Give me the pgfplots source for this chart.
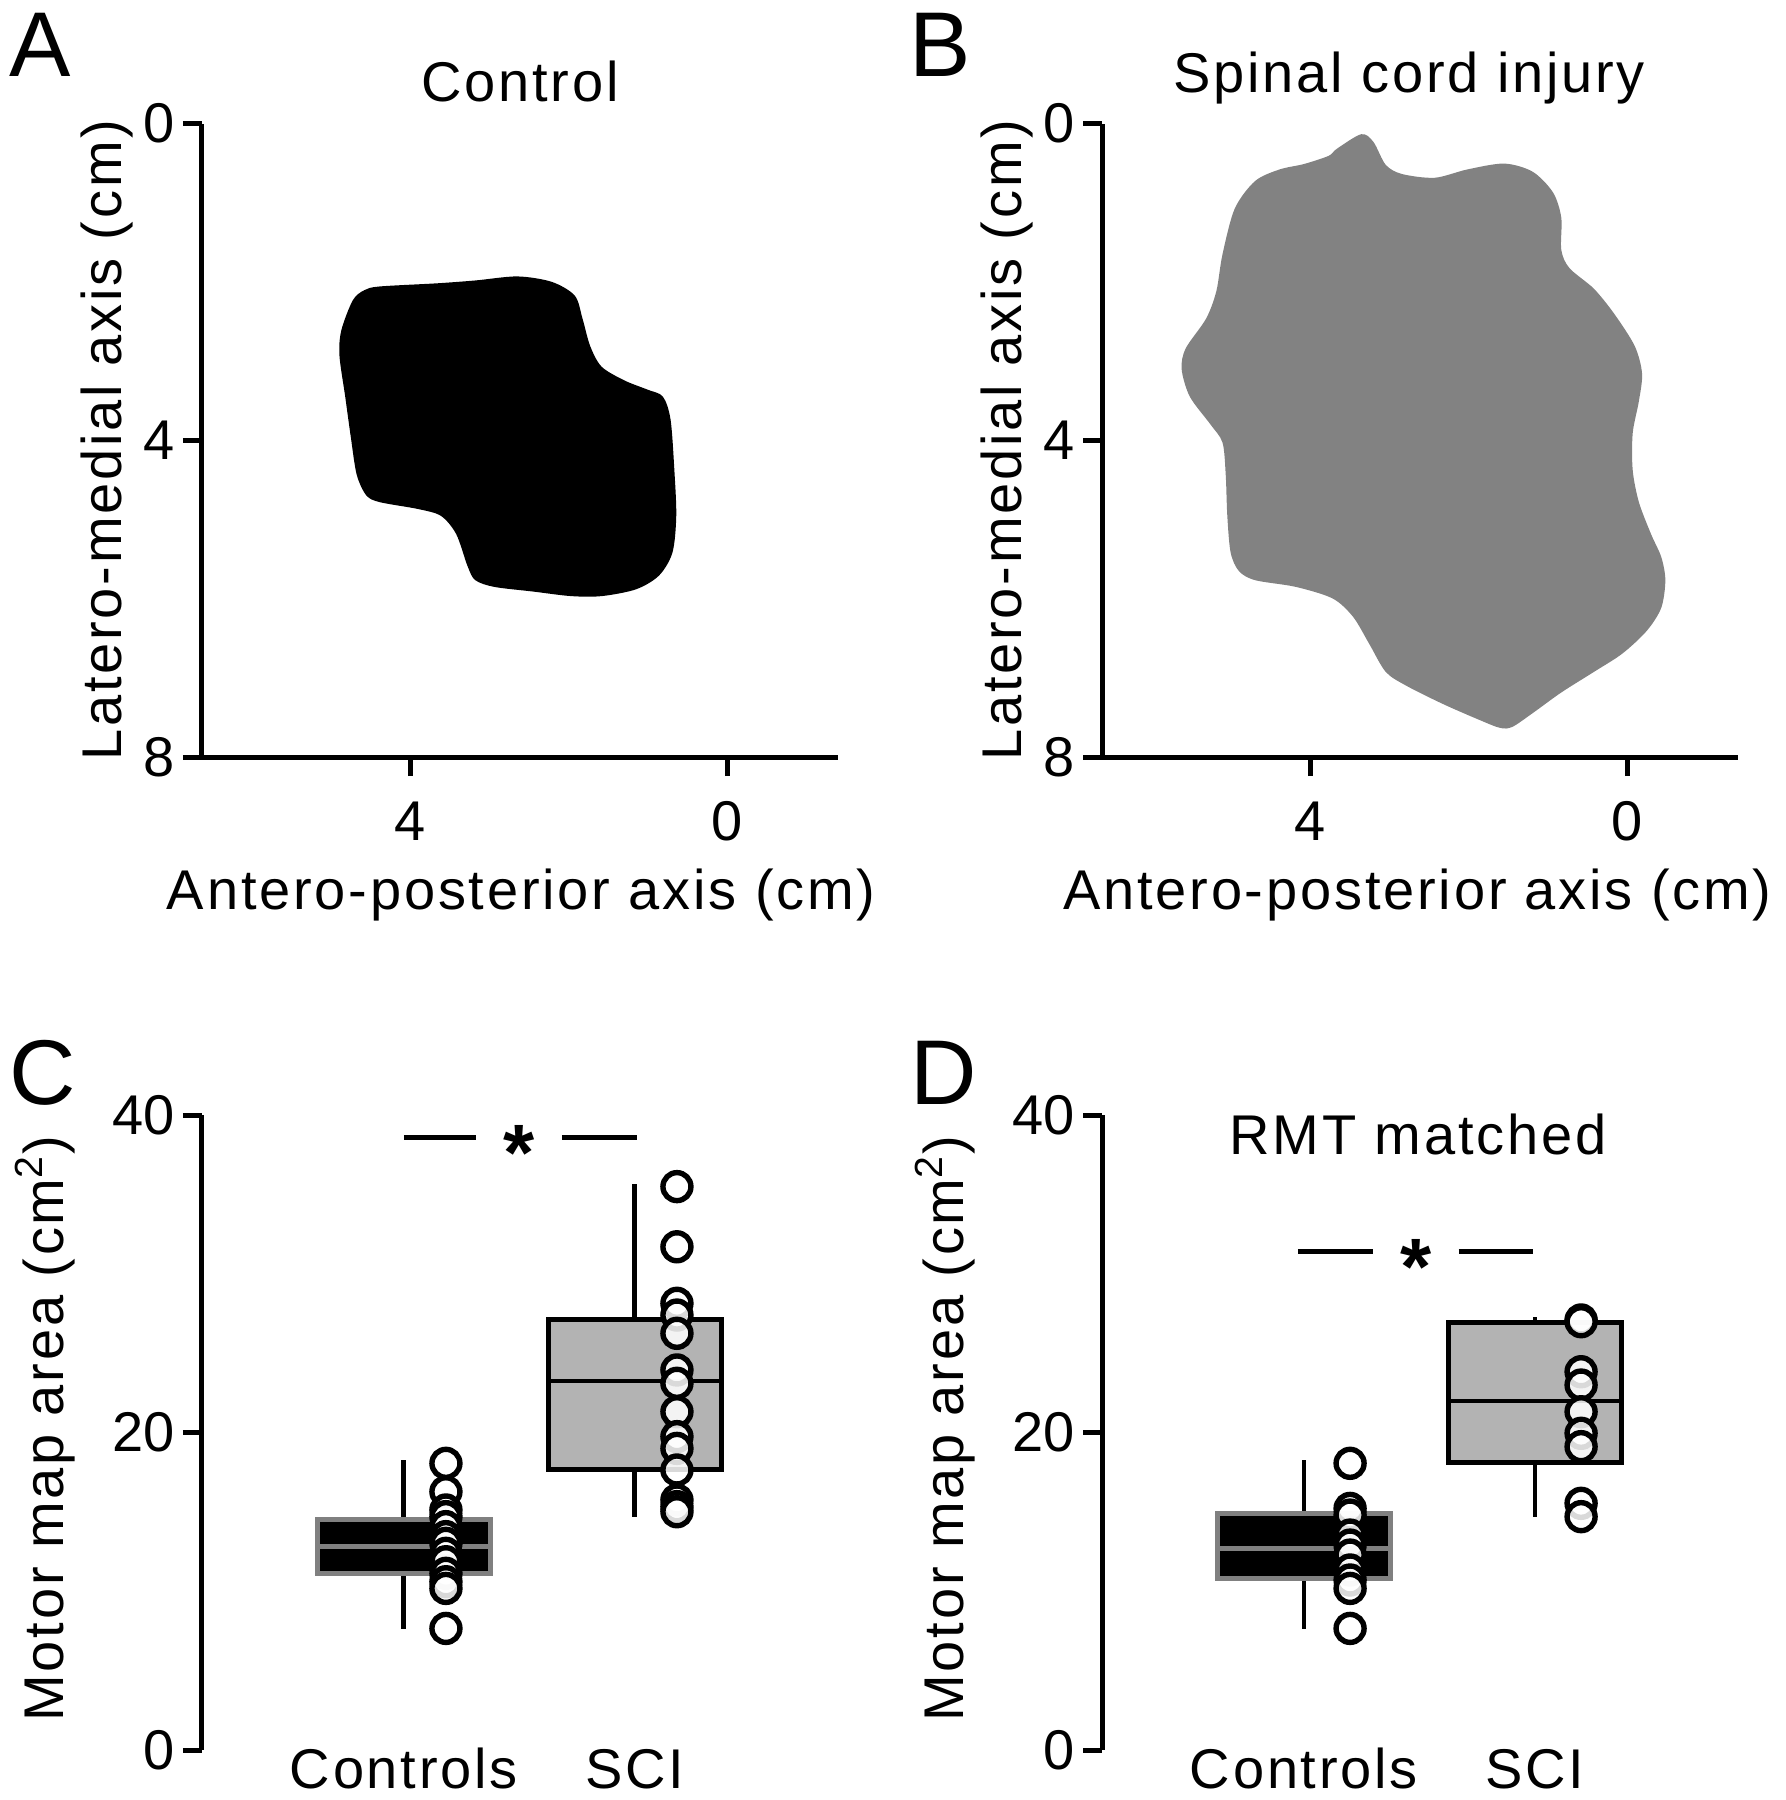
\documentclass[border=0pt]{standalone}
\usepackage{pgfplots}
\pgfplotsset{compat=1.18}
\usepackage{fontspec}
\setmainfont{Liberation Sans}[LetterSpace=5]
\newfontfamily\letterfont{Liberation Sans}
\definecolor{shapegray}{RGB}{130,130,130}
\definecolor{boxgray}{RGB}{179,179,179}
\definecolor{bordergray}{RGB}{128,128,128}
\tikzset{
  sigbar/.style={line width=1.3pt},
  star/.style={anchor=base, font=\fontsize{20}{22}\selectfont\bfseries},
  panelletter/.style={anchor=base west, inner sep=0pt, font=\letterfont\fontsize{23}{26}\selectfont},
}
\pgfplotsset{
  every axis/.append style={scale only axis, clip=false,
    /pgf/number format/assume math mode=true,
    tick align=outside, major tick length=4.75pt,
    tick style={black, line width=1.25pt},
    axis line style={line width=1.25pt},
    every tick label/.append style={font=\letterfont},
    yticklabel style={inner xsep=1.9pt},
    title style={yshift=-6pt}},
  mapaxis/.style={width=159pt, height=158.375pt,
    axis x line*=bottom, axis y line*=left,
    x filter/.expression={-x}, y filter/.expression={-y},
    xmin=-6.625, xmax=1.40, ymin=-8, ymax=0,
    xtick={-4,0}, xticklabels={4,0}, ytick={-8,-4,0}, yticklabels={8,4,0},
    xticklabel style={yshift=-1.5pt},
    xlabel={Antero-posterior axis (cm)}, ylabel={Latero-medial axis (cm)},
    ylabel style={at={(axis description cs:-0.126,0.5)}, anchor=base}},
  boxaxis/.style={width=137.1pt, height=158.75pt,
    axis y line*=left, axis x line*=bottom, x axis line style={draw=none},
    xmin=-0.874, xmax=1.5, ymin=0, ymax=40, ytick={0,20,40},
    xtick={0,1}, xticklabels={Controls,SCI}, xtick style={draw=none},
    xticklabel style={anchor=base, yshift=-4.75pt, font=\rmfamily},
    ylabel={Motor map area (cm\textsuperscript{2})},
    ylabel style={at={(axis description cs:-0.253,0.506)}, anchor=base}},
  pts/.style={only marks, mark=*, mark size=3.5pt,
    mark options={fill=white, fill opacity=0.85, draw=black, line width=1.35pt}},
  whisk/.style={black, line width=1.2pt, mark=none},
  ctrlrect/.style={fill=black, draw=bordergray, line width=1.25pt, mark=none},
  scirect/.style={fill=boxgray, draw=black, line width=1.25pt, mark=none},
}
\begin{document}
\fontsize{14}{16}\selectfont
\begin{tikzpicture}
\useasboundingbox (0,0) rectangle (446.5pt,-450pt);

% Panel A
\begin{axis}[mapaxis, at={(50.5pt,-189.25pt)}, anchor=south west,
  title={Control}, title style={at={(axis description cs:0.5,1.0355)}, anchor=base},
  xlabel style={at={(axis description cs:0.502,-0.24)}, anchor=base}]
\addplot[fill=black, draw=none, smooth, tension=0.5] coordinates {
(4.866,2.608) (4.722,2.232) (4.577,2.105) (4.384,2.058) (3.659,2.018) (3.176,1.982)
(2.645,1.931) (2.211,2.000) (1.921,2.174) (1.824,2.463) (1.727,2.811) (1.582,3.072)
(1.292,3.246) (1.003,3.361) (0.810,3.449) (0.713,3.738) (0.665,4.376) (0.641,4.955)
(0.689,5.418) (0.858,5.708) (1.148,5.882) (1.582,5.968) (1.968,5.968) (2.452,5.910)
(2.935,5.852) (3.176,5.767) (3.273,5.593) (3.417,5.186) (3.610,4.955) (3.900,4.868)
(4.384,4.781) (4.553,4.694) (4.673,4.434) (4.746,3.970) (4.818,3.449) (4.891,2.927)
(4.866,2.608) (4.722,2.232) (4.577,2.105)};
\end{axis}

% Panel B
\begin{axis}[mapaxis, at={(275.5pt,-189.25pt)}, anchor=south west,
  title={Spinal cord injury}, title style={at={(axis description cs:0.483,1.0497)}, anchor=base},
  xlabel style={at={(axis description cs:0.496,-0.24)}, anchor=base}]
\addplot[fill=shapegray, draw=none, smooth, tension=0.5] coordinates {
(3.663,0.320) (3.354,0.135) (3.200,0.233) (3.045,0.522) (2.839,0.638) (2.427,0.685)
(2.015,0.580) (1.551,0.506) (1.191,0.609) (0.934,0.871) (0.830,1.189) (0.830,1.595)
(0.727,1.826) (0.418,2.087) (0.160,2.406) (-0.097,2.811) (-0.189,3.158) (-0.149,3.507)
(-0.071,3.912) (-0.071,4.376) (-0.149,4.781) (-0.303,5.186) (-0.432,5.476) (-0.483,5.767)
(-0.432,6.114) (-0.251,6.404) (0.058,6.693) (0.418,6.925) (0.830,7.185) (1.191,7.446)
(1.449,7.620) (1.603,7.632) (1.860,7.533) (2.324,7.330) (2.787,7.099) (3.045,6.925)
(3.250,6.577) (3.457,6.230) (3.715,5.998) (4.178,5.852) (4.693,5.767) (4.898,5.651)
(5.002,5.418) (5.044,4.955) (5.064,4.434) (5.105,4.028) (5.259,3.797) (5.517,3.449)
(5.620,3.102) (5.569,2.840) (5.311,2.463) (5.182,2.116) (5.105,1.653) (4.950,1.074)
(4.693,0.726) (4.384,0.580) (4.075,0.511) (3.765,0.408) (3.663,0.320) (3.354,0.135)
(3.200,0.233)};
\end{axis}

% Panel C
\begin{axis}[boxaxis, at={(50.5pt,-437.5pt)}, anchor=south west]
% Controls box
\addplot[whisk] coordinates {(0,14.49) (0,18.27)};
\addplot[whisk] coordinates {(0,11.13) (0,7.60)};
\addplot[ctrlrect] coordinates {(-0.375,11.13) (0.375,11.13) (0.375,14.49) (-0.375,14.49)} -- cycle;
\addplot[draw=bordergray, line width=1.1pt, mark=none] coordinates {(-0.375,12.81) (0.375,12.81)};
% SCI box
\addplot[whisk] coordinates {(1,27.09) (1,35.63)};
\addplot[whisk] coordinates {(1,17.64) (1,14.70)};
\addplot[scirect] coordinates {(0.625,17.64) (1.375,17.64) (1.375,27.09) (0.625,27.09)} -- cycle;
\addplot[draw=black, line width=1.1pt, mark=none] coordinates {(0.625,23.24) (1.375,23.24)};
% points
\addplot[pts] coordinates {
(0.182,18.06) (0.182,16.27) (0.182,15.12) (0.182,14.70) (0.182,14.07) (0.182,13.44)
(0.182,13.02) (0.182,12.39) (0.182,11.86) (0.182,11.13) (0.182,10.60) (0.182,10.18)
(0.182,7.66)};
\addplot[pts] coordinates {
(1.182,35.49) (1.182,31.70) (1.182,28.14) (1.182,27.40) (1.182,26.25) (1.182,23.94)
(1.182,23.10) (1.182,21.31) (1.182,19.74) (1.182,19.00) (1.182,17.64) (1.182,15.75)
(1.182,15.33) (1.182,15.01)};
\draw[sigbar] (axis cs:0,38.6) -- (axis cs:0.31,38.6);
\draw[sigbar] (axis cs:0.684,38.6) -- (axis cs:1.01,38.6);
\node[star] at (axis cs:0.498,35.9) {*};
\end{axis}

% Panel D
\begin{axis}[boxaxis, at={(275.5pt,-437.5pt)}, anchor=south west,
  title={RMT matched}, title style={at={(axis description cs:0.576,0.9386)}, anchor=base}]
% Controls box
\addplot[whisk] coordinates {(0,14.91) (0,18.27)};
\addplot[whisk] coordinates {(0,10.81) (0,7.60)};
\addplot[ctrlrect] coordinates {(-0.375,10.81) (0.375,10.81) (0.375,14.91) (-0.375,14.91)} -- cycle;
\addplot[draw=bordergray, line width=1.1pt, mark=none] coordinates {(-0.375,12.70) (0.375,12.70)};
% SCI box
\addplot[whisk] coordinates {(1,26.92) (1,27.25)};
\addplot[whisk] coordinates {(1,18.10) (1,14.70)};
\addplot[scirect] coordinates {(0.625,18.10) (1.375,18.10) (1.375,26.92) (0.625,26.92)} -- cycle;
\addplot[draw=black, line width=1.1pt, mark=none] coordinates {(0.625,22.00) (1.375,22.00)};
% points
\addplot[pts] coordinates {
(0.2,18.06) (0.2,15.22) (0.2,14.80) (0.2,13.54) (0.2,12.91) (0.2,12.28)
(0.2,11.34) (0.2,10.71) (0.2,10.18) (0.2,7.66)};
\addplot[pts] coordinates {
(1.2,27.09) (1.2,26.98) (1.2,23.83) (1.2,22.99) (1.2,21.31) (1.2,19.95)
(1.2,19.11) (1.2,15.54) (1.2,14.70)};
\draw[sigbar] (axis cs:-0.026,31.4) -- (axis cs:0.30,31.4);
\draw[sigbar] (axis cs:0.67,31.4) -- (axis cs:0.99,31.4);
\node[star] at (axis cs:0.485,28.7) {*};
\end{axis}

% Panel letters
\node[panelletter] at (2.25pt,-19pt) {A};
\node[panelletter] at (227.25pt,-19pt) {B};
\node[panelletter] at (2.25pt,-276pt) {C};
\node[panelletter] at (227.5pt,-276pt) {D};
\end{tikzpicture}
\end{document}
